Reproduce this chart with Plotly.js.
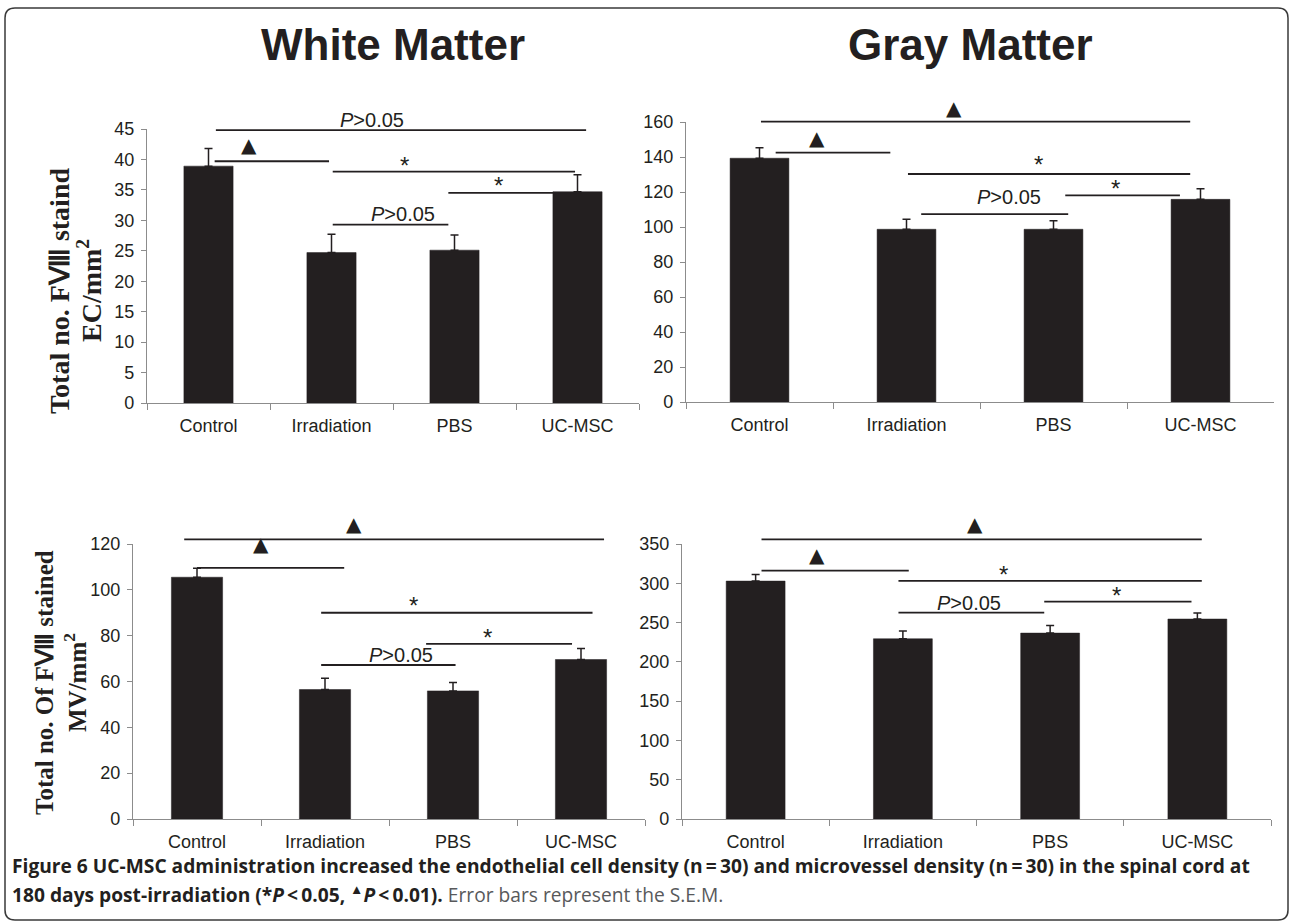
<!DOCTYPE html>
<html>
<head>
<meta charset="utf-8">
<script src="https://cdn.plot.ly/plotly-3.0.1.min.js"></script>
<style>html,body{margin:0;padding:0;background:#fff;}#chart{width:1293px;height:923px;}</style>
</head>
<body>
<div id="chart"></div>
<script>
// ---------- data ----------
var groups = ['Control', 'Irradiation', 'PBS', 'UC-MSC'];

var wmEcMean = [38.9, 24.7, 25.1, 34.7];   // White matter, EC/mm2
var wmEcSem  = [2.9, 3.0, 2.5, 2.8];
var gmEcMean = [139.3, 98.7, 98.7, 115.8]; // Gray matter, EC/mm2
var gmEcSem  = [6.0, 5.7, 4.9, 6.1];
var wmMvMean = [105.5, 56.5, 55.9, 69.6];  // White matter, MV/mm2
var wmMvSem  = [3.9, 4.9, 3.7, 4.8];
var gmMvMean = [302.8, 229.4, 236.6, 254.5]; // Gray matter, MV/mm2
var gmMvSem  = [8.5, 9.8, 9.8, 7.6];

var panelTitles = ['White Matter', 'Gray Matter'];
var yTitleEc = ['Total no. FⅧ staind', 'EC/mm<sup>2</sup>'];
var yTitleMv = ['Total no. Of FⅧ stained', 'MV/mm<sup>2</sup>'];

// significance brackets: [from index, to index, y value]
var wmEcLines = [[0.06, 3.07, 44.8], [0.05, 0.98, 39.7], [1.01, 2.98, 38.0], [1.95, 3.03, 34.5], [1.01, 1.95, 29.3]];
var gmEcLines = [[0.01, 2.93, 160.2], [0.11, 0.89, 142.5], [1.01, 2.93, 130.3], [2.08, 2.86, 118.1], [1.10, 2.10, 107.4]];
var wmMvLines = [[-0.10, 3.18, 122.0], [0.00, 1.15, 109.6], [0.97, 3.09, 90.0], [1.79, 2.93, 76.4], [0.97, 2.02, 67.2]];
var gmMvLines = [[0.04, 3.03, 356.0], [0.04, 1.04, 316.0], [0.97, 3.03, 303.0], [1.96, 2.96, 276.6], [0.97, 1.96, 262.6]];

// significance labels: [kind, x index, y value]
var wmEcMarks = [['p', 1.33, 46.5], ['tri', 0.33, 41.9], ['star', 1.59, 39.9], ['star', 2.36, 36.5], ['p', 1.58, 31.0]];
var gmEcMarks = [['tri', 1.32, 166.5], ['tri', 0.39, 149.0], ['star', 1.90, 138.3], ['star', 2.42, 125.0], ['p', 1.70, 117.3]];
var wmMvMarks = [['tri', 1.23, 127.5], ['tri', 0.50, 118.5], ['star', 1.69, 95.5], ['star', 2.27, 81.5], ['p', 1.59, 71.6]];
var gmMvMarks = [['tri', 1.49, 372.0], ['tri', 0.42, 332.0], ['star', 1.68, 318.0], ['star', 2.45, 290.6], ['p', 1.45, 274.5]];

var captionLine1 = '<b>Figure 6</b> <b>UC-MSC administration increased the endothelial cell density (n\u2009=\u200930) and microvessel density (n\u2009=\u200930) in the spinal cord at</b>';
var captionLine2 = '<b>180 days post-irradiation (*<i>P</i>\u2009&lt;\u20090.05, <sup>▲</sup><i>P</i>\u2009&lt;\u20090.01).</b> <span style="color:#58595b">Error bars represent the S.E.M.</span>';

// ---------- layout helpers ----------
var W = 1293, H = 923;
var ink = '#231f20';
var axisGray = '#8c8c8c';
var sansFont = 'Liberation Sans, Arial, sans-serif';

var panels = [
  {mean: wmEcMean, sem: wmEcSem, lines: wmEcLines, marks: wmEcMarks, xa: 'x',  ya: 'y',  xd: [147, 639], yd: [403, 129], range: [0, 45],  dtick: 5},
  {mean: gmEcMean, sem: gmEcSem, lines: gmEcLines, marks: gmEcMarks, xa: 'x2', ya: 'y2', xd: [686, 1274], yd: [402, 122], range: [0, 160], dtick: 20},
  {mean: wmMvMean, sem: wmMvSem, lines: wmMvLines, marks: wmMvMarks, xa: 'x3', ya: 'y3', xd: [133, 645], yd: [819, 544], range: [0, 120], dtick: 20},
  {mean: gmMvMean, sem: gmMvSem, lines: gmMvLines, marks: gmMvMarks, xa: 'x4', ya: 'y4', xd: [682, 1271], yd: [819, 544], range: [0, 350], dtick: 50}
];

var traces = [];
var annotations = [];
var shapes = [];
var layout = {
  width: W, height: H,
  margin: {l: 0, r: 0, t: 0, b: 0},
  paper_bgcolor: '#ffffff',
  plot_bgcolor: '#ffffff',
  showlegend: false,
  bargap: 0.6,
  font: {family: sansFont, color: ink, size: 18}
};

panels.forEach(function (p) {
  traces.push({
    type: 'bar',
    x: groups,
    y: p.mean,
    xaxis: p.xa,
    yaxis: p.ya,
    marker: {color: ink, line: {color: ink, width: 0.5}},
    error_y: {type: 'data', symmetric: false, array: p.sem, arrayminus: p.sem.map(function () { return 0; }),
              color: ink, thickness: 1.5, width: 4},
    hoverinfo: 'x+y'
  });
  var xk = p.xa === 'x' ? 'xaxis' : 'xaxis' + p.xa.slice(1);
  var yk = p.ya === 'y' ? 'yaxis' : 'yaxis' + p.ya.slice(1);
  var xRange = [-0.5, groups.length - 0.5];
  layout[xk] = {
    domain: [p.xd[0] / W, p.xd[1] / W],
    anchor: p.ya,
    type: 'category',
    range: xRange,
    tickson: 'boundaries',
    ticks: 'outside', ticklen: 6, tickcolor: axisGray, tickwidth: 1,
    showline: true, linecolor: axisGray, linewidth: 1.2,
    showgrid: false, zeroline: false,
    tickfont: {size: 18, color: ink, family: sansFont},
    ticklabelstandoff: 6,
    fixedrange: true
  };
  layout[yk] = {
    domain: [1 - p.yd[0] / H, 1 - p.yd[1] / H],
    anchor: p.xa,
    range: p.range,
    dtick: p.dtick,
    tick0: 0,
    ticks: 'outside', ticklen: 5, tickcolor: axisGray, tickwidth: 1,
    showline: true, linecolor: axisGray, linewidth: 1.2,
    showgrid: false, zeroline: false,
    tickfont: {size: 18, color: ink, family: sansFont},
    ticklabelstandoff: 3,
    fixedrange: true
  };
  // map data values into the axis-domain fractions (allows drawing above the axis top)
  function dx(idx) { return (idx - xRange[0]) / (xRange[1] - xRange[0]); }
  function dy(v) { return (v - p.range[0]) / (p.range[1] - p.range[0]); }
  var xdRef = p.xa + ' domain', ydRef = p.ya + ' domain';

  p.lines.forEach(function (l) {
    shapes.push({type: 'line', xref: xdRef, yref: ydRef, x0: dx(l[0]), x1: dx(l[1]), y0: dy(l[2]), y1: dy(l[2]),
      line: {color: ink, width: 1.8}});
  });
  p.marks.forEach(function (m) {
    var a = {xref: xdRef, yref: ydRef, x: dx(m[1]), y: dy(m[2]), showarrow: false, xanchor: 'center', yanchor: 'middle'};
    if (m[0] === 'p') {
      a.text = '<i>P</i>>0.05';
      a.font = {size: 20, color: ink, family: sansFont};
    } else if (m[0] === 'tri') {
      a.text = '▲';
      a.font = {size: 20, color: ink, family: 'DejaVu Sans, sans-serif'};
      a.yshift = 3;
    } else {
      a.text = '*';
      a.font = {size: 24, color: ink, family: sansFont};
      a.yshift = -5;
    }
    annotations.push(a);
  });
});

// panel titles
[[393, panelTitles[0]], [970, panelTitles[1]]].forEach(function (t) {
  annotations.push({xref: 'paper', yref: 'paper', x: t[0] / W, y: 1 - 45 / H, text: '<b>' + t[1] + '</b>',
    showarrow: false, xanchor: 'center', yanchor: 'middle',
    font: {size: 44, color: ink, family: sansFont}});
});

// y-axis titles (two rotated lines each)
function yTitle(lines, xs, yc, size) {
  lines.forEach(function (txt, k) {
    annotations.push({xref: 'paper', yref: 'paper', x: xs[k] / W, y: 1 - yc / H, text: '<b>' + txt + '</b>', textangle: -90,
      showarrow: false, xanchor: 'center', yanchor: 'middle',
      font: {size: size, color: ink, family: 'Liberation Serif, Times New Roman, serif'}});
  });
}
yTitle(yTitleEc, [60, 90], 291, 28);
yTitle(yTitleMv, [44, 75], 683, 25);

// caption
annotations.push({xref: 'paper', yref: 'paper', x: 10 / W, y: 1 - 865 / H, text: captionLine1, showarrow: false,
  xanchor: 'left', yanchor: 'middle', font: {size: 19.2, color: ink, family: 'Open Sans, sans-serif'}});
annotations.push({xref: 'paper', yref: 'paper', x: 10 / W, y: 1 - 894 / H, text: captionLine2, showarrow: false,
  xanchor: 'left', yanchor: 'middle', font: {size: 19.2, color: ink, family: 'Open Sans, sans-serif'}});

// rounded frame
(function () {
  var L = 5 / W, R = 1288 / W, T = 1 - 8 / H, B = 1 - 920 / H, rx = 10 / W, ry = 10 / H;
  var path = 'M ' + (L + rx) + ' ' + T + ' L ' + (R - rx) + ' ' + T + ' Q ' + R + ' ' + T + ' ' + R + ' ' + (T - ry) +
    ' L ' + R + ' ' + (B + ry) + ' Q ' + R + ' ' + B + ' ' + (R - rx) + ' ' + B +
    ' L ' + (L + rx) + ' ' + B + ' Q ' + L + ' ' + B + ' ' + L + ' ' + (B + ry) +
    ' L ' + L + ' ' + (T - ry) + ' Q ' + L + ' ' + T + ' ' + (L + rx) + ' ' + T + ' Z';
  shapes.push({type: 'path', xref: 'paper', yref: 'paper', path: path, line: {color: '#3a3a3a', width: 1.5}, fillcolor: 'rgba(0,0,0,0)'});
})();

layout.annotations = annotations;
layout.shapes = shapes;

Plotly.newPlot('chart', traces, layout, {displayModeBar: false, staticPlot: true});
</script>
</body>
</html>
